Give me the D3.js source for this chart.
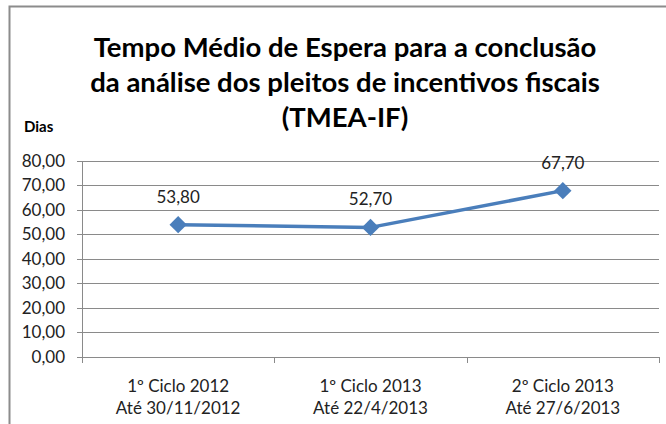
<!DOCTYPE html>
<html>
<head>
<meta charset="utf-8">
<script src="https://cdn.jsdelivr.net/npm/d3@7"></script>
<style>
  body { margin: 0; background: #fff; }
  svg { display: block; font-family: Lato, "Open Sans", sans-serif; }
</style>
</head>
<body>
<div id="chart"></div>
<script>
// Data
const categories = [
  ['1º Ciclo 2012', 'Até 30/11/2012'],
  ['1º  Ciclo 2013', 'Até 22/4/2013'],
  ['2º Ciclo 2013', 'Até 27/6/2013']
];
const values = [53.8, 52.7, 67.7];
const yTicks = [0, 10, 20, 30, 40, 50, 60, 70, 80];
const titleLines = [
  'Tempo Médio de Espera para a conclusão',
  'da análise dos pleitos de incentivos fiscais',
  '(TMEA-IF)'
];
const yTitle = 'Dias';

const width = 666;
const height = 424;
const margin = { left: 82, right: 7, top: 160.5, bottom: 67.5 };

const fmt = v => v.toFixed(2).replace('.', ',');

const svg = d3.select('#chart')
  .append('svg')
  .attr('width', width)
  .attr('height', height);

// outer chart border (only top and left visible in the reference)
svg.append('path')
  .attr('d', `M9.5,${height}V6.5H${width}`)
  .attr('fill', 'none')
  .attr('stroke', '#8c8c8c')
  .attr('stroke-width', 2);

const x = d3.scaleBand()
  .domain(d3.range(categories.length))
  .range([margin.left, width - margin.right]);

const y = d3.scaleLinear()
  .domain([0, 80])
  .range([height - margin.bottom, margin.top]);

// gridlines
svg.append('g')
  .selectAll('line')
  .data(yTicks)
  .join('line')
  .attr('x1', margin.left - 5)
  .attr('x2', width - margin.right)
  .attr('y1', d => Math.round(y(d)) + 0.5)
  .attr('y2', d => Math.round(y(d)) + 0.5)
  .attr('stroke', '#8a8a8a')
  .attr('stroke-width', 1);

// y axis line
svg.append('line')
  .attr('x1', margin.left + 0.5)
  .attr('x2', margin.left + 0.5)
  .attr('y1', Math.round(y(80)) + 0.5)
  .attr('y2', Math.round(y(0)) + 0.5)
  .attr('stroke', '#8a8a8a');

// y tick labels
svg.append('g')
  .selectAll('text')
  .data(yTicks)
  .join('text')
  .attr('x', 65)
  .attr('y', d => y(d) + 6)
  .attr('text-anchor', 'end')
  .attr('font-size', 17)
  .attr('fill', '#222')
  .text(d => fmt(d));

// x category ticks at band edges
const edges = d3.range(categories.length + 1).map(i => margin.left + i * x.step());
svg.append('g')
  .selectAll('line')
  .data(edges)
  .join('line')
  .attr('x1', d => Math.round(d) + 0.5)
  .attr('x2', d => Math.round(d) + 0.5)
  .attr('y1', Math.round(y(0)))
  .attr('y2', Math.round(y(0)) + 6)
  .attr('stroke', '#8a8a8a');

// category labels
const cat = svg.append('g')
  .selectAll('text')
  .data(categories)
  .join('text')
  .attr('text-anchor', 'middle')
  .attr('font-size', 17)
  .attr('fill', '#222');
cat.selectAll('tspan')
  .data((d, i) => d.map(t => ({ t, i })))
  .join('tspan')
  .attr('x', d => x(d.i) + x.bandwidth() / 2)
  .attr('y', (d, j) => 392 + j * 22)
  .text(d => d.t);

// line
const line = d3.line()
  .x((d, i) => x(i) + x.bandwidth() / 2)
  .y(d => y(d));

svg.append('path')
  .datum(values)
  .attr('d', line)
  .attr('fill', 'none')
  .attr('stroke', '#4a7ebb')
  .attr('stroke-width', 3.5)
  .attr('stroke-linejoin', 'round');

// diamond markers
svg.append('g')
  .selectAll('path')
  .data(values)
  .join('path')
  .attr('d', d3.symbol(d3.symbolSquare, 150))
  .attr('transform', (d, i) => `translate(${x(i) + x.bandwidth() / 2},${y(d)}) rotate(45)`)
  .attr('fill', '#4a7ebb');

// data labels
svg.append('g')
  .selectAll('text')
  .data(values)
  .join('text')
  .attr('x', (d, i) => x(i) + x.bandwidth() / 2)
  .attr('y', d => y(d) - 22)
  .attr('text-anchor', 'middle')
  .attr('font-size', 17)
  .attr('fill', '#222')
  .text(d => fmt(d));

// title
svg.append('g')
  .selectAll('text')
  .data(titleLines)
  .join('text')
  .attr('x', 345)
  .attr('y', (d, i) => 57 + i * 35)
  .attr('text-anchor', 'middle')
  .attr('font-size', 27.5)
  .attr('font-weight', 'bold')
  .attr('fill', '#000')
  .text(d => d);

// y axis title
svg.append('text')
  .attr('x', 24)
  .attr('y', 132)
  .attr('font-size', 15)
  .attr('font-weight', 'bold')
  .attr('fill', '#000')
  .text(yTitle);
</script>
</body>
</html>
